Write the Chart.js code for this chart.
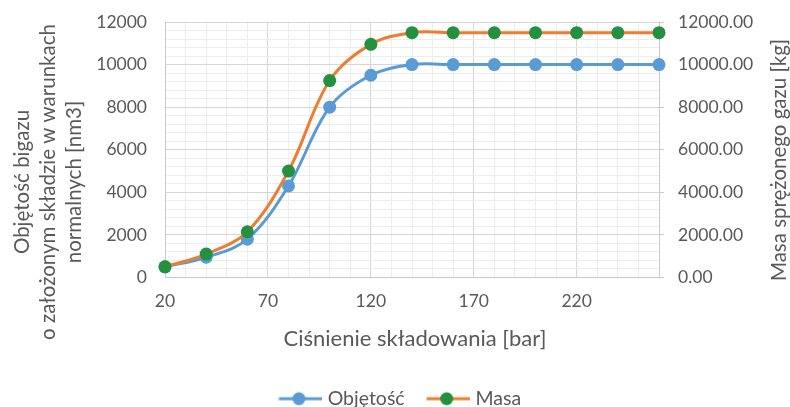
<!DOCTYPE html>
<html>
<head>
<meta charset="utf-8">
<script src="https://cdn.jsdelivr.net/npm/chart.js@4/dist/chart.umd.min.js"></script>
<style>
  html, body { margin: 0; padding: 0; background: #ffffff; }
  #wrap { width: 790px; height: 407px; }
</style>
</head>
<body>
<div id="wrap"><canvas id="c" width="790" height="407"></canvas></div>
<script>
// Storage pressure [bar]
const pressures = [20, 40, 60, 80, 100, 120, 140, 160, 180, 200, 220, 240, 260];
// Biogas volume at normal conditions [nm3]
const volumes = [500, 950, 1800, 4300, 8000, 9500, 10000, 10000, 10000, 10000, 10000, 10000, 10000];
// Mass of compressed gas [kg]
const masses = [500, 1100, 2150, 5000, 9250, 10950, 11500, 11500, 11500, 11500, 11500, 11500, 11500];

const xTickLabels = [20, 70, 120, 170, 220];
const yTickLabels = [0, 2000, 4000, 6000, 8000, 10000, 12000];

const seriesNames = ['Objętość', 'Masa'];
const leftTitle = ['Objętość bigazu', 'o założonym składzie w warunkach', 'normalnych [nm3]'];
const rightTitle = 'Masa sprężonego gazu [kg]';
const xTitle = 'Ciśnienie składowania [bar]';

const FONT = 'Lato';
const TEXT = '#595959';
const BLUE = '#5B9BD5';
const ORANGE = '#ED7D31';
const GREEN = '#23913F';
const GRID_MAJOR = '#D6D6D6';
const GRID_MINOR = '#EDEDED';
const AXIS_LINE = '#C9C9C9';

const toPoints = (ys) => pressures.map((x, i) => ({ x, y: ys[i] }));

// legend swatch: short line with a marker, line runs a little past the box
function swatch(lineColor, dotColor) {
  const c = document.createElement('canvas');
  c.width = 48; c.height = 16;
  const g = c.getContext('2d');
  g.strokeStyle = lineColor; g.lineWidth = 3;
  g.beginPath(); g.moveTo(4.5, 8); g.lineTo(48, 8); g.stroke();
  g.fillStyle = dotColor;
  g.beginPath(); g.arc(24.5, 8, 6.5, 0, Math.PI * 2); g.fill();
  return c;
}
const swatches = [swatch(BLUE, BLUE), swatch(ORANGE, GREEN)];

// legend placement and axis titles (vertical ones read bottom-to-top)
const axisTitles = {
  id: 'axisTitles',
  afterLayout(chart) {
    const lg = chart.legend;
    const h = lg.bottom - lg.top;
    lg.top = 367;
    lg.bottom = lg.top + h;
    lg.left += 5;
    lg.right += 5;
  },
  afterDraw(chart) {
    const ctx = chart.ctx;
    ctx.save();
    ctx.fillStyle = TEXT;
    ctx.textAlign = 'center';
    ctx.textBaseline = 'middle';
    ctx.font = '20.5px ' + FONT;
    ctx.save();
    ctx.translate(22, 182);
    ctx.rotate(-Math.PI / 2);
    leftTitle.forEach((t, i) => ctx.fillText(t, 0, i * 26));
    ctx.restore();
    ctx.save();
    ctx.translate(779, 160);
    ctx.rotate(-Math.PI / 2);
    ctx.fillText(rightTitle, 0, 0);
    ctx.restore();
    ctx.font = '22px ' + FONT;
    ctx.fillText(xTitle, 415, 339);
    ctx.restore();
  }
};

const isMajorX = (v) => xTickLabels.includes(v);
const isMajorY = (v) => yTickLabels.includes(v);
const tickFont = { family: FONT, size: 17.5 };
const noEdgePadding = (s) => { s.paddingTop = 0; s.paddingBottom = 0; };

new Chart(document.getElementById('c'), {
  type: 'line',
  data: {
    datasets: [
      {
        label: seriesNames[0],
        data: toPoints(volumes),
        yAxisID: 'y',
        borderColor: BLUE,
        backgroundColor: BLUE,
        pointBackgroundColor: BLUE,
        pointBorderColor: BLUE,
        borderWidth: 3,
        pointRadius: 6.5,
        pointBorderWidth: 0,
        tension: 0.35,
        clip: false,
        order: 1
      },
      {
        label: seriesNames[1],
        data: toPoints(masses),
        yAxisID: 'y2',
        borderColor: ORANGE,
        backgroundColor: GREEN,
        pointBackgroundColor: GREEN,
        pointBorderColor: GREEN,
        borderWidth: 3,
        pointRadius: 6.5,
        pointBorderWidth: 0,
        tension: 0.35,
        clip: false,
        order: 0
      }
    ]
  },
  options: {
    responsive: false,
    animation: false,
    events: [],
    layout: { padding: { top: 22, bottom: 0 } },
    scales: {
      x: {
        type: 'linear',
        min: 20,
        max: 260,
        afterFit(s) { s.height = 78; },
        ticks: {
          stepSize: 10,
          autoSkip: false,
          maxRotation: 0,
          padding: 13,
          color: TEXT,
          font: tickFont,
          callback: (v) => (isMajorX(v) ? String(v) : '')
        },
        grid: {
          drawTicks: false,
          color: (c) => (isMajorX(c.tick.value) ? GRID_MAJOR : GRID_MINOR)
        },
        border: { color: AXIS_LINE }
      },
      y: {
        position: 'left',
        min: 0,
        max: 12000,
        afterFit(s) { s.width = 165; noEdgePadding(s); },
        ticks: {
          stepSize: 400,
          autoSkip: false,
          padding: 18,
          color: TEXT,
          font: tickFont,
          callback: (v) => (isMajorY(v) ? String(v) : '')
        },
        grid: {
          drawTicks: false,
          color: (c) => (isMajorY(c.tick.value) ? GRID_MAJOR : GRID_MINOR)
        },
        border: { color: AXIS_LINE }
      },
      y2: {
        position: 'right',
        min: 0,
        max: 12000,
        afterFit(s) { s.width = 131; noEdgePadding(s); },
        ticks: {
          stepSize: 400,
          autoSkip: false,
          padding: 14,
          color: TEXT,
          font: tickFont,
          callback: (v) => (isMajorY(v) ? v.toFixed(2) : '')
        },
        grid: {
          drawOnChartArea: false,
          tickLength: 5,
          color: (c) => (isMajorY(c.tick.value) ? AXIS_LINE : 'rgba(0,0,0,0)')
        },
        border: { color: AXIS_LINE }
      }
    },
    plugins: {
      tooltip: { enabled: false },
      legend: {
        position: 'bottom',
        labels: {
          usePointStyle: true,
          pointStyleWidth: 39,
          padding: 22,
          color: TEXT,
          font: { family: FONT, size: 19.5 },
          sort: (a, b) => a.datasetIndex - b.datasetIndex,
          generateLabels(chart) {
            const items = Chart.defaults.plugins.legend.labels.generateLabels(chart);
            items.forEach((it) => { it.pointStyle = swatches[it.datasetIndex]; });
            return items;
          }
        }
      }
    }
  },
  plugins: [axisTitles]
});
</script>
</body>
</html>
